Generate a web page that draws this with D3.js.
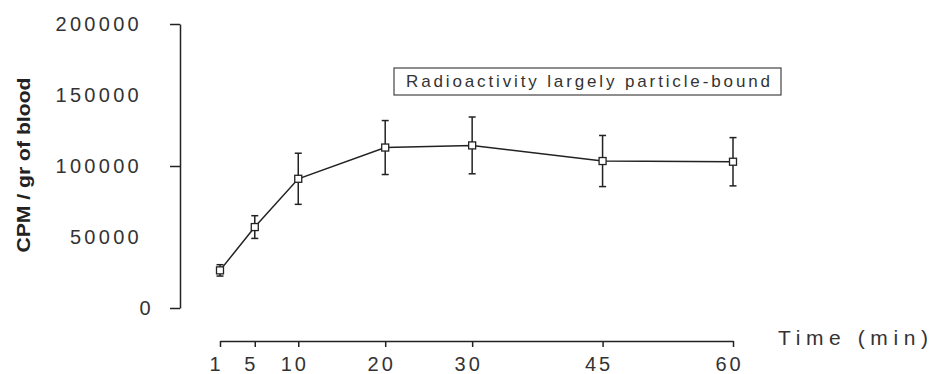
<!DOCTYPE html>
<html>
<head>
<meta charset="utf-8">
<script src="https://cdn.jsdelivr.net/npm/d3@7"></script>
<style>
  body { margin: 0; background: #fff; }
  svg { display: block; }
  text { font-family: "Liberation Sans", Arial, sans-serif; fill: #333; }
</style>
</head>
<body>
<svg width="930" height="374"></svg>
<script>
// data
var times = [1, 5, 10, 20, 30, 45, 60];
var cpm = [26500, 57000, 91000, 113000, 114500, 103500, 103000];
var cpmErr = [4000, 8000, 18000, 19000, 20000, 18000, 17000];
var xTicks = [1, 5, 10, 20, 30, 45, 60];
var yTicks = [0, 50000, 100000, 150000, 200000];
var yMajor = [0, 100000, 200000];
var legendText = "Radioactivity largely particle-bound";

var svg = d3.select("svg");

var x = d3.scaleLinear().domain([1, 60]).range([220, 733]);
var y = d3.scaleLinear().domain([0, 200000]).range([308, 24]);

var ink = "#222";

// y axis
var yAxis = svg.append("g")
    .attr("transform", "translate(180,0)")
    .call(d3.axisLeft(y).tickValues(yTicks).tickSize(10).tickSizeOuter(0).tickPadding(28)
        .tickFormat(d3.format("d")));
yAxis.select(".domain").attr("stroke", ink).attr("stroke-width", 1.5);
yAxis.selectAll(".tick line")
    .attr("stroke", ink).attr("stroke-width", 1.5)
    .style("display", function (d) { return yMajor.indexOf(d) < 0 ? "none" : null; });
yAxis.selectAll(".tick text")
    .style("font-size", "20px")
    .style("letter-spacing", "3.3px")
    .attr("fill", "#333")
    .attr("dx", function (d) { return d === 0 ? 12 : 0; });

// x axis
var xAxis = svg.append("g")
    .attr("transform", "translate(0,341)")
    .call(d3.axisBottom(x).tickValues(xTicks).tickSize(6).tickSizeOuter(0).tickPadding(10));
xAxis.select(".domain").attr("stroke", ink).attr("stroke-width", 1.5);
xAxis.selectAll(".tick line").attr("stroke", ink).attr("stroke-width", 1.5);
xAxis.selectAll(".tick text")
    .style("font-size", "20px")
    .style("letter-spacing", "3px")
    .attr("fill", "#333")
    .attr("dx", -4);

// axis titles
svg.append("text")
    .attr("transform", "translate(30,165) rotate(-90)")
    .attr("text-anchor", "middle")
    .attr("textLength", 175)
    .attr("lengthAdjust", "spacingAndGlyphs")
    .style("font-size", "18px")
    .style("font-weight", "bold")
    .style("fill", "#222")
    .text("CPM / gr of blood");

svg.append("text")
    .attr("x", 778)
    .attr("y", 345)
    .attr("textLength", 150)
    .attr("lengthAdjust", "spacing")
    .style("font-size", "21px")
    .text("Time (min)");

// data
var pts = times.map(function (t, i) { return { t: t, v: cpm[i], e: cpmErr[i] }; });

svg.append("path")
    .datum(pts)
    .attr("fill", "none")
    .attr("stroke", ink)
    .attr("stroke-width", 1.5)
    .attr("d", d3.line().x(function (d) { return x(d.t); }).y(function (d) { return y(d.v); }));

var eb = svg.append("g").selectAll("g").data(pts).enter().append("g")
    .attr("stroke", ink).attr("stroke-width", 1.5);
eb.append("line")
    .attr("x1", function (d) { return x(d.t); }).attr("x2", function (d) { return x(d.t); })
    .attr("y1", function (d) { return y(d.v - d.e); }).attr("y2", function (d) { return y(d.v + d.e); });
[1, -1].forEach(function (s) {
    eb.append("line")
        .attr("x1", function (d) { return x(d.t) - 3.5; }).attr("x2", function (d) { return x(d.t) + 3.5; })
        .attr("y1", function (d) { return y(d.v + s * d.e); }).attr("y2", function (d) { return y(d.v + s * d.e); });
});

svg.append("g").selectAll("rect").data(pts).enter().append("rect")
    .attr("x", function (d) { return x(d.t) - 3.5; })
    .attr("y", function (d) { return y(d.v) - 3.5; })
    .attr("width", 7).attr("height", 7)
    .attr("fill", "#fff").attr("stroke", ink).attr("stroke-width", 1.3);

// label box
var lg = svg.append("g");
lg.append("rect")
    .attr("x", 394).attr("y", 68).attr("width", 387).attr("height", 27)
    .attr("fill", "#fff").attr("stroke", "#444").attr("stroke-width", 1.2);
lg.append("text")
    .attr("x", 406).attr("y", 87)
    .attr("textLength", 364)
    .attr("lengthAdjust", "spacing")
    .style("font-size", "17px")
    .text(legendText);
</script>
</body>
</html>
